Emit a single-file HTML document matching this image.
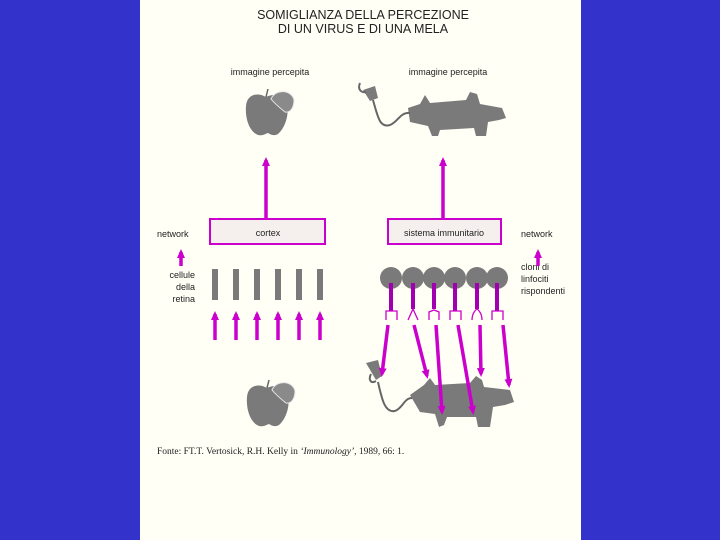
<!DOCTYPE html><html><head><style>body{margin:0;width:720px;height:540px;background:#3333cc;overflow:hidden}</style></head><body>
<svg width="720" height="540" xmlns="http://www.w3.org/2000/svg" style="position:absolute;left:0;top:0">
<defs><marker id="a" markerUnits="userSpaceOnUse" markerWidth="10" markerHeight="10" refX="6" refY="4" orient="auto"><path d="M0,0L9,4L0,8z" fill="#cc00cc"/></marker></defs>
<rect x="140" y="0" width="441" height="540" fill="#fffff6"/>
<g font-family="Liberation Sans, sans-serif" fill="#222">
<text x="363" y="19" font-size="12.5" text-anchor="middle">SOMIGLIANZA DELLA PERCEZIONE</text>
<text x="363" y="33" font-size="12.5" text-anchor="middle">DI UN VIRUS E DI UNA MELA</text>
<text x="270" y="75" font-size="9" text-anchor="middle">immagine percepita</text>
<text x="448" y="75" font-size="9" text-anchor="middle">immagine percepita</text>
<text x="157" y="237" font-size="9">network</text>
<text x="521" y="237" font-size="9">network</text>
<text x="195" y="278" font-size="9" text-anchor="end">cellule</text>
<text x="195" y="290" font-size="9" text-anchor="end">della</text>
<text x="195" y="302" font-size="9" text-anchor="end">retina</text>
<text x="521" y="270" font-size="9">cloni di</text>
<text x="521" y="282" font-size="9">linfociti</text>
<text x="521" y="294" font-size="9">rispondenti</text>
</g>
<text x="157" y="454" font-family="Liberation Serif, serif" font-size="9.5" fill="#222">Fonte: FT.T. Vertosick, R.H. Kelly in <tspan font-style="italic">‘Immunology’</tspan>, 1989, 66: 1.</text>
<!-- apples -->
<g fill="#7a7a7a">
<path d="M266,97 C258,92 247,94 246,106 C245,118 249,130 256,134 C261,137 265,134 268,133 C271,135 276,137 280,132 C286,125 289,114 287,104 C285,95 274,93 266,97z"/>
<path d="M267,388 C259,383 248,385 247,397 C246,409 250,421 257,425 C262,428 266,425 269,424 C272,426 277,428 281,423 C287,416 290,405 288,395 C286,386 275,384 267,388z"/></g>
<g fill="#8a8a8a" stroke="#e8e8e8" stroke-width="1">
<path d="M271,99 C276,88 292,90 294,100 C294,108 290,113 285,112 C280,108 275,104 271,99z"/>
<path d="M272,390 C277,379 293,381 295,391 C295,399 291,404 286,403 C281,399 276,395 272,390z"/></g>
<g stroke="#666" stroke-width="1.5"><line x1="266" y1="97" x2="268" y2="89"/><line x1="267" y1="388" x2="269" y2="380"/></g>
<!-- pigs -->
<g fill="#7a7a7a">
<path d="M408,108 L420,104 L425,95 L430,103 L466,100 L470,92 L477,94 L480,104 L502,108 L506,118 L499,120 L488,122 L486,136 L476,136 L474,128 L440,130 L438,136 L432,136 L428,126 L410,122z"/>
<path d="M366,363 L378,360 L382,376 L376,380z"/>
<path d="M410,395 L424,385 L430,378 L435,385 L470,383 L476,376 L482,380 L484,387 L510,390 L514,402 L505,405 L493,407 L490,427 L478,427 L476,417 L447,417 L444,425 L439,427 L435,414 L420,412z"/>
<path d="M363,90 L375,86 L378,98 L370,101z"/></g>
<g fill="none" stroke="#666" stroke-width="2">
<path d="M360,83 C357,90 362,93 366,92"/><path d="M373,100 C378,118 380,128 390,125 C398,122 400,112 410,113"/>
<path d="M371,374 C368,380 371,384 376,381"/><path d="M378,382 C382,400 385,413 395,411 C403,408 404,398 412,398"/></g>
<!-- arrows -->
<g stroke="#cc00cc" stroke-width="3.5" marker-end="url(#a)">
<line x1="266" y1="218" x2="266" y2="160"/><line x1="443" y1="218" x2="443" y2="160"/>
<line x1="181" y1="266" x2="181" y2="252"/><line x1="538" y1="266" x2="538" y2="252"/>
<line x1="215" y1="340" x2="215" y2="314"/><line x1="236" y1="340" x2="236" y2="314"/><line x1="257" y1="340" x2="257" y2="314"/><line x1="278" y1="340" x2="278" y2="314"/><line x1="299" y1="340" x2="299" y2="314"/><line x1="320" y1="340" x2="320" y2="314"/>
<line x1="388" y1="325" x2="382" y2="374"/><line x1="414" y1="325" x2="427" y2="376"/><line x1="436" y1="325" x2="442" y2="412"/><line x1="458" y1="325" x2="473" y2="412"/><line x1="480" y1="325" x2="481" y2="374"/><line x1="503" y1="325" x2="509" y2="385"/>
</g>
<!-- boxes -->
<rect x="210" y="219" width="115" height="25" fill="#f5f0ee" stroke="#cc00cc" stroke-width="2"/>
<rect x="388" y="219" width="113" height="25" fill="#f5f0ee" stroke="#cc00cc" stroke-width="2"/>
<text x="268" y="236" font-family="Liberation Sans, sans-serif" font-size="9" text-anchor="middle" fill="#222">cortex</text>
<text x="444" y="236" font-family="Liberation Sans, sans-serif" font-size="9" text-anchor="middle" fill="#222">sistema immunitario</text>
<!-- retina cells -->
<g fill="#7a7a7a"><rect x="212" y="269" width="6" height="31"/><rect x="233" y="269" width="6" height="31"/><rect x="254" y="269" width="6" height="31"/><rect x="275" y="269" width="6" height="31"/><rect x="296" y="269" width="6" height="31"/><rect x="317" y="269" width="6" height="31"/></g>
<!-- lymphocytes -->
<g fill="#7a7a7a"><circle cx="391" cy="278" r="11"/><circle cx="413" cy="278" r="11"/><circle cx="434" cy="278" r="11"/><circle cx="455" cy="278" r="11"/><circle cx="477" cy="278" r="11"/><circle cx="497" cy="278" r="11"/></g>
<g stroke="#a000b0" stroke-width="4"><line x1="391" y1="283" x2="391" y2="311"/><line x1="413" y1="283" x2="413" y2="309"/><line x1="434" y1="283" x2="434" y2="309"/><line x1="455" y1="283" x2="455" y2="311"/><line x1="477" y1="283" x2="477" y2="309"/><line x1="497" y1="283" x2="497" y2="311"/></g>
<g stroke="#cc00cc" stroke-width="1.3" fill="none">
<path d="M386,320 V311 H397 V320"/><path d="M408,320 L413,309 L418,320"/><path d="M429,320 V312 L434,310 L439,312 V320"/><path d="M450,320 V311 H461 V320"/><path d="M472,320 C472,312 477,309 477,309 C477,309 482,312 482,320"/><path d="M492,320 V311 H503 V320"/></g>
</svg></body></html>
